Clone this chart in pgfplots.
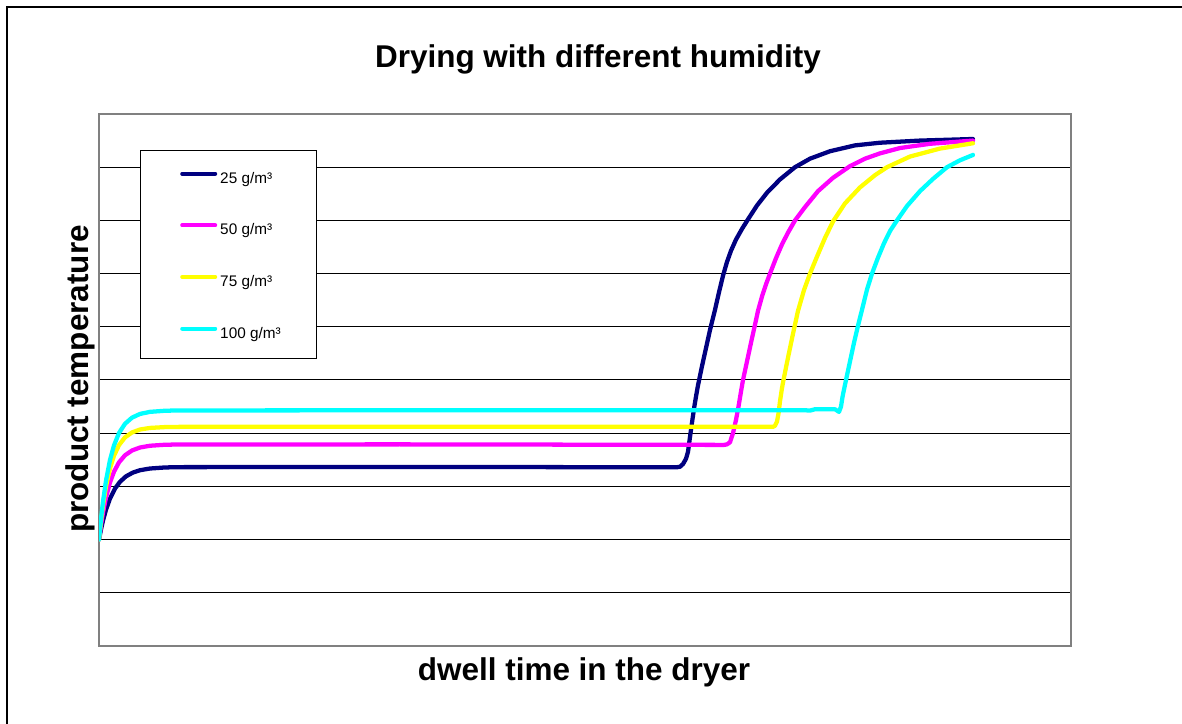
\documentclass[border=0pt]{standalone}
\usepackage{pgfplots}
\pgfplotsset{compat=1.18}
\usepackage{fontspec}
\setmainfont{Liberation Sans}
\definecolor{cNavy}{HTML}{000080}
\definecolor{cMag}{HTML}{FF00FF}
\definecolor{cYel}{HTML}{FFFF00}
\definecolor{cCyan}{HTML}{00FFFF}
\begin{document}
\begin{tikzpicture}
\useasboundingbox (0,0) rectangle (886.5pt,543pt);
\draw[black, line width=1.6pt] (5.25pt,0pt) -- (5.25pt,537.75pt) -- (886.5pt,537.75pt);
\begin{axis}[
  at={(74.25pt,58.5pt)}, anchor=south west, scale only axis,
  width=729pt, height=399pt,
  xmin=99, xmax=1071, ymin=0, ymax=10,
  xtick=\empty, ytick={1,2,3,4,5,6,7,8,9}, yticklabels={},
  ymajorgrids, major grid style={black, line width=0.75pt},
  major tick length=0pt,
  axis line style={gray, line width=0.9pt},
  legend style={at={(0.0833,0.892)}, anchor=north west, draw=none, fill=none,
    inner sep=0pt, row sep=29.95pt, column sep=2.25pt,
    font=\fontsize{11.5}{13}\selectfont,
    nodes={inner sep=0pt, text height=8.5pt, text depth=0pt}},
  legend cell align=left,
  legend image code/.code={\draw[#1, line width=3pt] (0pt,0.3em) -- (24.75pt,0.3em);},
  every axis plot/.append style={line width=3.2pt, line join=round, line cap=round},
]
\draw[black, line width=0.75pt, fill=white] (rel axis cs:0.0422,0.9305) rectangle (rel axis cs:0.2233,0.5395);
\addplot[cNavy] coordinates {
(99,2.0) (101,2.192) (103,2.357) (106,2.562) (110,2.772) (115,2.959) (120,3.087) (126,3.189) (133,3.261) (140,3.304)
(150,3.336) (165,3.356) (180,3.362) (400,3.365) (677,3.36)
(680,3.37) (683,3.42) (686,3.52) (688,3.65) (690,3.93) (692,4.2) (694,4.46) (696,4.69) (698,4.9) (702,5.26) (706,5.6)
(710,5.94) (715,6.32) (719,6.65) (723,6.96) (727,7.22) (731,7.43) (736,7.64) (742,7.84) (748,8.02) (757,8.28) (767,8.52)
(780,8.77) (795,9.0) (810,9.16) (830,9.3) (855,9.41) (880,9.46) (920,9.5) (973,9.53)};
\addlegendentry{25 g/m³}
\addplot[cMag] coordinates {
(99,2.0) (101,2.275) (103,2.507) (106,2.791) (110,3.074) (114,3.277) (119,3.452) (125,3.585) (132,3.675) (140,3.731)
(150,3.764) (165,3.783) (180,3.788) (400,3.79) (724,3.78)
(727,3.79) (730,3.83) (733,4.0) (736,4.25) (738.5,4.5) (740.7,4.75) (743,5.0) (747,5.35) (751,5.7) (755,6.04) (758,6.3)
(762,6.57) (766,6.8) (770,7.0) (776,7.29) (782,7.55) (788,7.77) (795,8.0) (805,8.25) (818,8.55) (833,8.8) (850,9.02)
(865,9.16) (880,9.26) (900,9.36) (930,9.44) (973,9.5)};
\addlegendentry{50 g/m³}
\addplot[cYel] coordinates {
(99,2.0) (101,2.352) (103,2.646) (106,2.999) (110,3.34) (114,3.577) (119,3.776) (125,3.921) (132,4.014) (140,4.069)
(150,4.099) (165,4.115) (180,4.119) (400,4.12) (773,4.12)
(775,4.14) (777,4.22) (778.5,4.37) (780,4.6) (782,4.85) (784,5.05) (788,5.42) (793,5.87) (798,6.3) (804,6.69) (810,7.0)
(817,7.32) (825,7.67) (833,7.98) (845,8.32) (860,8.62) (875,8.85) (887,9.0) (910,9.2) (940,9.35) (973,9.45)};
\addlegendentry{75 g/m³}
\addplot[cCyan] coordinates {
(99,2.0) (101,2.389) (103,2.715) (106,3.108) (110,3.497) (114,3.771) (119,4.003) (125,4.177) (132,4.292) (140,4.362)
(150,4.401) (165,4.422) (180,4.428) (400,4.43) (806,4.43)
(810,4.425) (815,4.45) (835,4.45) (839,4.4) (841,4.5) (842.5,4.68) (844,4.82) (846,5.0) (850,5.35) (854,5.7) (858,6.02)
(862,6.32) (867,6.7) (872,7.0) (878,7.3) (884,7.57) (890,7.8) (897,8.0) (907,8.27) (920,8.55) (933,8.78) (947,9.0)
(960,9.13) (973,9.23)};
\addlegendentry{100 g/m³}
\end{axis}
\node[font=\fontsize{23.6}{28}\selectfont\bfseries] at (448.5pt,498.75pt) {Drying with different humidity};
\node[font=\fontsize{23.6}{28}\selectfont\bfseries] at (438pt,39pt) {dwell time in the dryer};
\node[font=\fontsize{23.6}{28}\selectfont\bfseries, rotate=90] at (60pt,258.75pt) {product temperature};
\end{tikzpicture}
\end{document}
